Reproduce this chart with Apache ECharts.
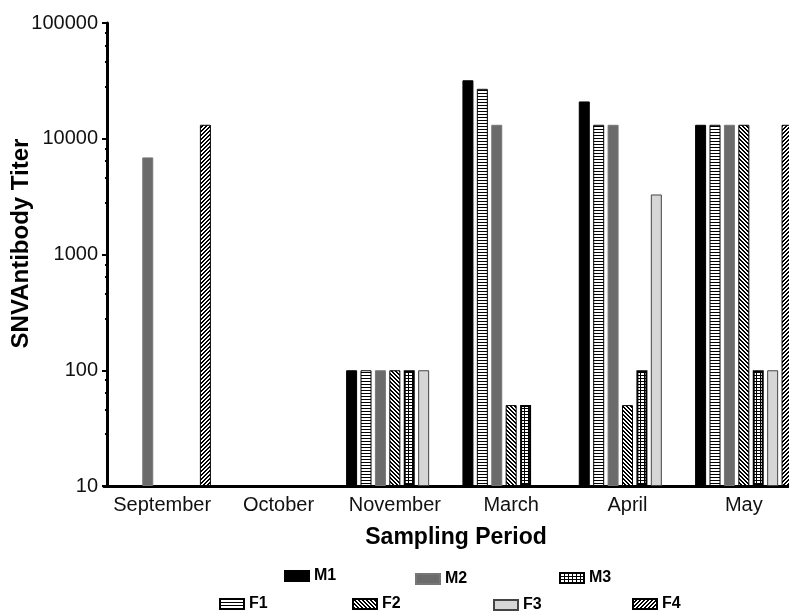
<!DOCTYPE html>
<html>
<head>
<meta charset="utf-8">
<script src="https://cdn.jsdelivr.net/npm/echarts@6/dist/echarts.min.js"></script>
<style>
  html, body { margin: 0; padding: 0; background: #fff; }
  #chart { width: 789px; height: 613px; }
</style>
</head>
<body>
<div id="chart"></div>
<script>
// sampling periods and titers
const categories = ['September', 'October', 'November', 'March', 'April', 'May'];
const yTickLabels = ['10', '100', '1000', '10000', '100000'];

const M1 = [null, null, 100, 32000, 21000, 13200];
const F1 = [null, null, 100, 27000, 13200, 13200];
const M2 = [6900, null, 100, 13200, 13200, 13200];
const F2 = [null, null, 100, 50, 50, 13200];
const M3 = [null, null, 100, 50, 100, 100];
const F3 = [null, null, 100, null, 3300, 100];
const F4 = [13200, null, null, null, null, 13200];

// small fill patterns for the hatched bars
function makePattern(w, h, draw) {
  const c = document.createElement('canvas');
  c.width = w;
  c.height = h;
  const ctx = c.getContext('2d');
  draw(ctx);
  return { image: c, repeat: 'repeat' };
}

const hStripes = makePattern(4, 3, ctx => {
  ctx.fillStyle = '#fff';
  ctx.fillRect(0, 0, 4, 3);
  ctx.fillStyle = '#000';
  ctx.fillRect(0, 0, 4, 1);
});

const backDiag = makePattern(4, 4, ctx => {
  ctx.fillStyle = '#fff';
  ctx.fillRect(0, 0, 4, 4);
  ctx.fillStyle = '#000';
  for (let y = 0; y < 4; y++) {
    ctx.fillRect(y, y, 1, 1);
    ctx.fillRect((y + 1) % 4, y, 1, 1);
  }
});

const fwdDiag = makePattern(4, 4, ctx => {
  ctx.fillStyle = '#fff';
  ctx.fillRect(0, 0, 4, 4);
  ctx.fillStyle = '#000';
  for (let y = 0; y < 4; y++) {
    const x = 3 - y;
    ctx.fillRect(x, y, 1, 1);
    ctx.fillRect((x + 1) % 4, y, 1, 1);
  }
});

const gridCells = makePattern(4, 3, ctx => {
  ctx.fillStyle = '#000';
  ctx.fillRect(0, 0, 4, 3);
  ctx.fillStyle = '#fff';
  ctx.fillRect(1, 1, 3, 2);
});

const chart = echarts.init(document.getElementById('chart'), null, { renderer: 'canvas' });

const font = '"Liberation Sans", Arial, sans-serif';

function bar(name, data, color, borderColor, borderWidth) {
  return {
    name: name,
    type: 'bar',
    data: data,
    barWidth: 11,
    barGap: '31%',
    itemStyle: { color: color, borderColor: borderColor, borderWidth: borderWidth },
    emphasis: { disabled: true }
  };
}

function legendAt(name, left, top) {
  return {
    data: [name],
    left: left,
    top: top,
    padding: 0,
    icon: 'rect',
    itemWidth: 24,
    itemHeight: 10,
    itemGap: 4,
    textStyle: { fontFamily: font, fontWeight: 'bold', fontSize: 16, color: '#000' }
  };
}

const option = {
  animation: false,
  backgroundColor: '#fff',
  legend: [
    legendAt('M1', 284, 568),
    legendAt('M2', 415, 571),
    legendAt('M3', 559, 570),
    legendAt('F1', 219, 596),
    legendAt('F2', 352, 596),
    legendAt('F3', 493, 597),
    legendAt('F4', 632, 596)
  ],
  grid: {
    left: 104,
    right: -13,
    top: 23,
    bottom: 127,
    outerBoundsMode: 'none',
    containLabel: false
  },
  xAxis: {
    type: 'category',
    data: categories,
    axisLine: { lineStyle: { color: '#000', width: 3 } },
    axisTick: { show: false },
    axisLabel: { fontFamily: font, fontSize: 20, color: '#111', margin: 9, interval: 0 },
    name: 'Sampling Period',
    nameLocation: 'middle',
    nameGap: 40,
    nameMoveOverlap: false,
    nameTextStyle: { fontFamily: font, fontWeight: 'bold', fontSize: 23, color: '#000', padding: [0, 0, 0, 6] }
  },
  yAxis: {
    type: 'log',
    logBase: 10,
    min: 10,
    max: 100000,
    startValue: 10,
    offset: -3,
    axisLine: { show: true, lineStyle: { color: '#000', width: 3 } },
    axisTick: { show: true, length: 5, lineStyle: { color: '#000', width: 2 } },
    minorTick: { show: true, splitNumber: 5, length: 2, lineStyle: { color: '#000', width: 2 } },
    splitLine: { show: false },
    axisLabel: {
      fontFamily: font,
      fontSize: 20,
      color: '#111',
      margin: 9,
      formatter: v => yTickLabels.find(t => Math.abs(Number(t) - v) < 0.5 * Number(t)) || ''
    },
    name: 'SNVAntibody Titer',
    nameLocation: 'middle',
    nameGap: 74,
    nameMoveOverlap: false,
    nameTextStyle: { fontFamily: font, fontWeight: 'bold', fontSize: 24, color: '#000', padding: [0, 0, 0, 22] }
  },
  series: [
    bar('M1', M1, '#000', '#000', 1),
    bar('F1', F1, hStripes, '#000', 1),
    bar('M2', M2, '#6b6b6b', '#777', 1),
    bar('F2', F2, backDiag, '#000', 1),
    bar('M3', M3, gridCells, '#000', 2),
    bar('F3', F3, '#d6d6d6', '#444', 1),
    bar('F4', F4, fwdDiag, '#000', 1)
  ]
};

chart.setOption(option);
</script>
</body>
</html>
